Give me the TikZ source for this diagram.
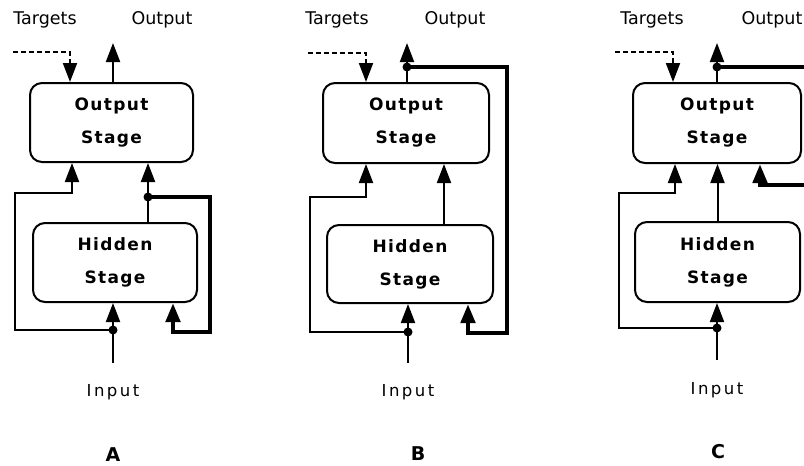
\documentclass[tikz,border=0pt]{standalone}
\usepackage{fontspec}
\setmainfont{DejaVu Sans}
\newfontfamily\boxfont[LetterSpace=8]{DejaVu Sans}
\newfontfamily\infont[LetterSpace=15]{DejaVu Sans}
\usetikzlibrary{arrows.meta}

\begin{document}
\begin{tikzpicture}[x=1pt,y=-1pt]
            \tikzstyle{every node}+=[inner sep=0pt]
            \tikzstyle{stagebox}=[draw, line width=2pt, rounded corners=12pt, align=center, font={\boxfont\bfseries\fontsize{17}{33}\selectfont}]
            \tikzstyle{lbl}=[font={\fontsize{17.5}{20}\selectfont}]
            \tikzstyle{inlbl}=[font={\infont\fontsize{16.5}{20}\selectfont}]
            \tikzstyle{panel}=[font={\bfseries\fontsize{19}{22}\selectfont}]
            \tikzstyle{dot}=[circle, fill, minimum size=9pt]
            \tikzstyle{wire}=[line width=2pt]
            \tikzstyle{fat}=[line width=4.5pt]
            \tikzset{tip/.style={-{Triangle[length=19pt,width=14pt]}}}
            \tikzstyle{tgt}=[wire, dash pattern=on 5pt off 3pt]
            \useasboundingbox (0,0) rectangle (804,466);
            % A
            \node[stagebox, minimum width=163pt, minimum height=79pt] (outA) at (111.5,122.5) {Output\\Stage};
            \node[stagebox, minimum width=164pt, minimum height=79pt] (hidA) at (115,262.5) {Hidden\\Stage};
            \node[lbl] (tgtlblA) at (45,20) {Targets};
            \node[lbl] (outlblA) at (162,20) {Output};
            \node[inlbl] (inlblA) at (113,392) {Input};
            \node[panel] (nameA) at (113,455) {A};
            \node[dot] (jinA) at (113,330) {};
            \node[dot] (jhidA) at (148,197) {};
            \coordinate (inA) at (113,363);
            \coordinate (oA) at (113,43);
            \coordinate (tA) at (13,52);
            \coordinate (tkA) at (70,52);
            \coordinate (lA) at (15,193);
            \coordinate (ltA) at (72,193);
            \coordinate (rA) at (210,332);
            \coordinate (rtA) at (173,332);
            \draw[wire,tip] (outA.north -| oA) -- (oA);
            \draw[tgt,tip] (tA) -- (tkA) -- (outA.north -| tkA);
            \draw[wire,tip] (inA) -- (hidA.south -| inA);
            \draw[wire,tip] (jinA.center) -| (lA) -- (ltA) -- (outA.south -| ltA);
            \draw[wire,tip] (hidA.north -| jhidA) -- (outA.south -| jhidA);
            \draw[fat,tip] (jhidA.center) -| (rA) -- (rtA) -- (hidA.south -| rtA);
            % B
            \node[stagebox, minimum width=166pt, minimum height=80pt] (outB) at (406,123) {Output\\Stage};
            \node[stagebox, minimum width=166pt, minimum height=78pt] (hidB) at (410,264) {Hidden\\Stage};
            \node[lbl] (tgtlblB) at (337,20) {Targets};
            \node[lbl] (outlblB) at (455,20) {Output};
            \node[inlbl] (inlblB) at (408,392) {Input};
            \node[panel] (nameB) at (418,454) {B};
            \node[dot] (jinB) at (408,332) {};
            \node[dot] (joutB) at (407,67) {};
            \coordinate (inB) at (408,363);
            \coordinate (oB) at (407,43);
            \coordinate (tB) at (308,53);
            \coordinate (tkB) at (366,53);
            \coordinate (lB) at (310,197);
            \coordinate (ltB) at (366,197);
            \coordinate (hB) at (444,225);
            \coordinate (rB) at (507,333);
            \coordinate (rtB) at (468,333);
            \draw[wire,tip] (outB.north -| oB) -- (oB);
            \draw[tgt,tip] (tB) -- (tkB) -- (outB.north -| tkB);
            \draw[wire,tip] (inB) -- (hidB.south -| inB);
            \draw[wire,tip] (jinB.center) -| (lB) -- (ltB) -- (outB.south -| ltB);
            \draw[wire,tip] (hidB.north -| hB) -- (outB.south -| hB);
            \draw[fat,tip] (joutB.center) -| (rB) -- (rtB) -- (hidB.south -| rtB);
            % C
            \node[stagebox, minimum width=168pt, minimum height=80pt] (outC) at (717,123) {Output\\Stage};
            \node[stagebox, minimum width=165pt, minimum height=80pt] (hidC) at (717.5,262) {Hidden\\Stage};
            \node[lbl] (tgtlblC) at (652,20) {Targets};
            \node[lbl] (outlblC) at (772,20) {Output};
            \node[inlbl] (inlblC) at (717,390) {Input};
            \node[panel] (nameC) at (718,452) {C};
            \node[dot] (jinC) at (717,328) {};
            \node[dot] (joutC) at (717,67) {};
            \coordinate (inC) at (717,360);
            \coordinate (oC) at (717,43);
            \coordinate (tC) at (615,52);
            \coordinate (tkC) at (673,52);
            \coordinate (lC) at (619,193);
            \coordinate (ltC) at (675,193);
            \coordinate (eC) at (808,67);
            \coordinate (fC) at (808,185);
            \coordinate (ftC) at (760,185);
            \draw[wire,tip] (outC.north -| oC) -- (oC);
            \draw[tgt,tip] (tC) -- (tkC) -- (outC.north -| tkC);
            \draw[wire,tip] (inC) -- (hidC.south -| inC);
            \draw[wire,tip] (jinC.center) -| (lC) -- (ltC) -- (outC.south -| ltC);
            \draw[wire,tip] (hidC.north) -- (outC.south -| hidC.north);
            \draw[fat] (joutC.center) -- (eC);
            \draw[fat,tip] (fC) -- (ftC) -- (outC.south -| ftC);
\end{tikzpicture}
\end{document}
